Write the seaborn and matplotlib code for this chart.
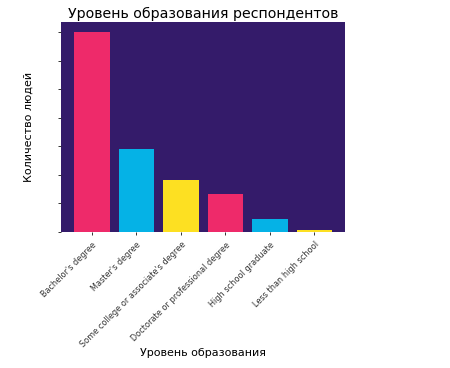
import numpy as np
import pandas as pd
import matplotlib
matplotlib.use("Agg")
import matplotlib.pyplot as plt
import seaborn as sns

sns.set_theme(style="ticks")
plt.rcParams['font.family'] = ['DejaVu Sans']

# ---------- data ----------
levels = ["Bachelor's degree", "Master's degree", "Some college or associate's degree",
          "Doctorate or professional degree", "High school graduate", "Less than high school"]
counts = [35000, 14500, 9100, 6650, 2250, 350]
bar_colors = ["#ee2a6a", "#05b2e6", "#fde022", "#ee2a6a", "#05b2e6", "#fde022"]

df = pd.DataFrame({"level": levels, "count": counts})

fig = plt.figure(figsize=(4.5, 3.68), dpi=100)
ax = fig.add_axes([0.136, 0.37, 0.631, 0.57])
sns.barplot(data=df, x="level", y="count", hue="level", palette=bar_colors,
            legend=False, ax=ax, width=0.8, saturation=1, linewidth=0)
ax.set_xlim(-0.69, 5.69)
ax.set_facecolor("#341b6a")
ax.set_title("Уровень образования респондентов", fontsize=10.2, pad=3, color="black")
ax.set_xlabel("Уровень образования", fontsize=8, color="black")
ax.xaxis.set_label_coords(0.5, -0.555)
ax.set_ylabel("Количество людей", fontsize=8, labelpad=14, color="black")
ax.set_yticks(np.arange(0, 40000, 5000))
ax.set_yticklabels([])
ax.tick_params(axis="x", labelsize=5.9, length=2.5, width=0.7, colors="#333333")
ax.tick_params(axis="y", length=2.5, width=0.7, colors="#333333")
plt.setp(ax.get_xticklabels(), rotation=45, ha="right", rotation_mode="anchor")
for s in ["top", "right", "left", "bottom"]:
    ax.spines[s].set_visible(False)

fig.savefig("out.png", dpi=100)
